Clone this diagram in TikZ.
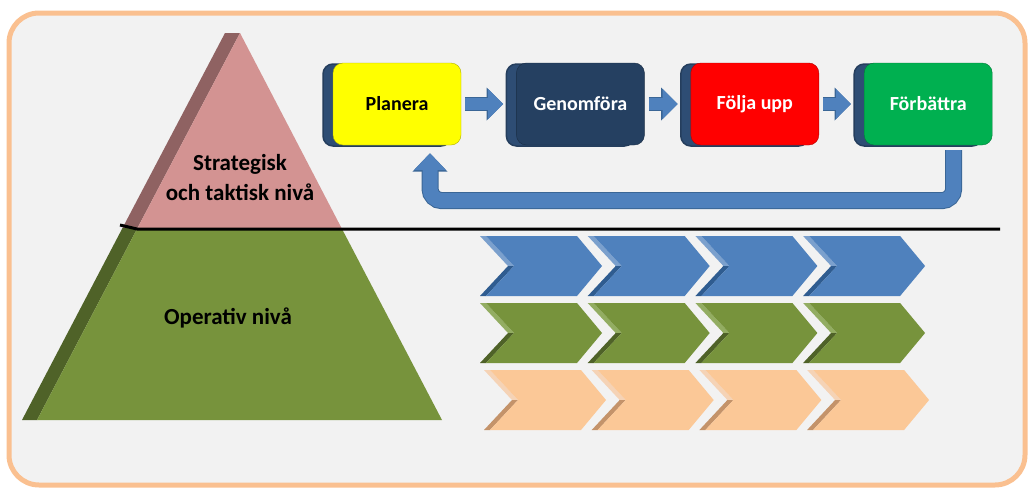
\documentclass[tikz,border=0pt]{standalone}
\usepackage{fontspec}
\setmainfont{Carlito}
\usetikzlibrary{positioning,arrows.meta}

\definecolor{frameorange}{HTML}{FAC090}
\definecolor{panelgray}{HTML}{F2F2F2}
\definecolor{pinkface}{HTML}{D39392}
\definecolor{pinkside}{HTML}{8F6262}
\definecolor{greenface}{HTML}{77933C}
\definecolor{greenside}{HTML}{4F6228}
\definecolor{greenup}{HTML}{93AD62}
\definecolor{slabblue}{HTML}{2E4D74}
\definecolor{navyface}{HTML}{254061}
\definecolor{planyellow}{HTML}{FFFF00}
\definecolor{foljred}{HTML}{FF0000}
\definecolor{forbgreen}{HTML}{00B050}
\definecolor{arrowblue}{HTML}{4F81BD}
\definecolor{arrowedge}{HTML}{3A6696}
\definecolor{blueup}{HTML}{7BA0CD}
\definecolor{bluelow}{HTML}{2F5C90}
\definecolor{orangeface}{HTML}{FBC897}
\definecolor{orangeup}{HTML}{F5D3B6}
\definecolor{orangelow}{HTML}{C4936A}

\begin{document}
\begin{tikzpicture}[x=1pt, y=-1pt,
    stegbox/.style={rectangle, rounded corners=10pt, minimum width=128pt,
        minimum height=82pt, inner sep=0pt, fill=#1, draw=#1!70!black,
        font=\fontsize{20}{24}\selectfont\bfseries,
        preaction={fill=slabblue, draw=slabblue!80!black, line width=1.5pt,
            transform canvas={xshift=-10pt, yshift=-1pt}}},
    nivatext/.style={align=center, font=\fontsize{23}{30}\selectfont\bfseries},
    smallarrow/.style={arrowblue, line width=12pt, shorten <=4pt, shorten >=13pt,
        -{Triangle[width=29pt,length=15pt]},
        preaction={draw=arrowedge, line width=14pt, -{Triangle[width=32pt,length=16.5pt]}}},
    backarrow/.style={arrowblue, line width=15pt, rounded corners=12pt,
        shorten <=5pt, shorten >=8pt,
        -{Triangle[width=31pt,length=17pt]},
        preaction={draw=arrowedge, line width=17pt, -{Triangle[width=34pt,length=18.5pt]}}}]

\useasboundingbox (0,0) rectangle (1029,488);

% frame
\draw[frameorange, line width=5pt, fill=panelgray, rounded corners=30pt]
    (9,13) rectangle (1025,485);

% pyramid
\fill[pinkside] (225,33) -- (240,33) -- (137.5,228) -- (122.5,228) -- cycle;
\fill[pinkface] (240,33) -- (341.5,228) -- (137.5,228) -- cycle;
\fill[greenside] (122.5,228) -- (137.5,228) -- (37,420) -- (22,420) -- cycle;
\fill[greenface] (137.5,228) -- (341.5,228) -- (442,420) -- (37,420) -- cycle;
\draw[line width=3pt] (120,225) -- (137,229) -- (1000,229);

\node[nivatext] (strat) at (240,178) {Strategisk\\och taktisk nivå};
\node[nivatext] (oper) at (228,318) {Operativ nivå};

% cycle boxes
\node[stegbox=planyellow, text=black] (plan) at (397,104) {Planera};
\node[stegbox=navyface, text=white] (genom) [right=55pt of plan] {Genomföra};
\node[stegbox=foljred, text=white] (folj) [right=46pt of genom] {Följa upp};
\node[stegbox=forbgreen, text=white] (forb) [right=45pt of folj] {Förbättra};

\draw[smallarrow] (plan) -- (genom);
\draw[smallarrow] (genom) -- (folj);
\draw[smallarrow] (folj) -- (forb);
\draw[backarrow] ([xshift=25.5pt]forb.south)
    |- ([xshift=33pt,yshift=-55.5pt]plan.south) -- ([xshift=33pt]plan.south);

% chevrons
\foreach \yc/\cf/\cu/\cl/\dx in {266/arrowblue/blueup/bluelow/0,
        333/greenface/greenup/greenside/0, 400/orangeface/orangeup/orangelow/4}
  \foreach \i in {0,...,3} {
    \pgfmathsetmacro\xo{480+\dx+107.7*\i}
    \fill[\cu] (\xo,{\yc-30}) -- ({\xo+6},{\yc-30}) -- ({\xo+34},\yc) -- ({\xo+28},\yc) -- cycle;
    \fill[\cl] (\xo,{\yc+30}) -- ({\xo+28},\yc) -- ({\xo+34},\yc) -- ({\xo+6},{\yc+30}) -- cycle;
    \fill[\cf] ({\xo+6},{\yc-30}) -- ({\xo+97},{\yc-30}) -- ({\xo+122},\yc)
        -- ({\xo+97},{\yc+30}) -- ({\xo+6},{\yc+30}) -- ({\xo+34},\yc) -- cycle;
  }
\end{tikzpicture}
\end{document}
